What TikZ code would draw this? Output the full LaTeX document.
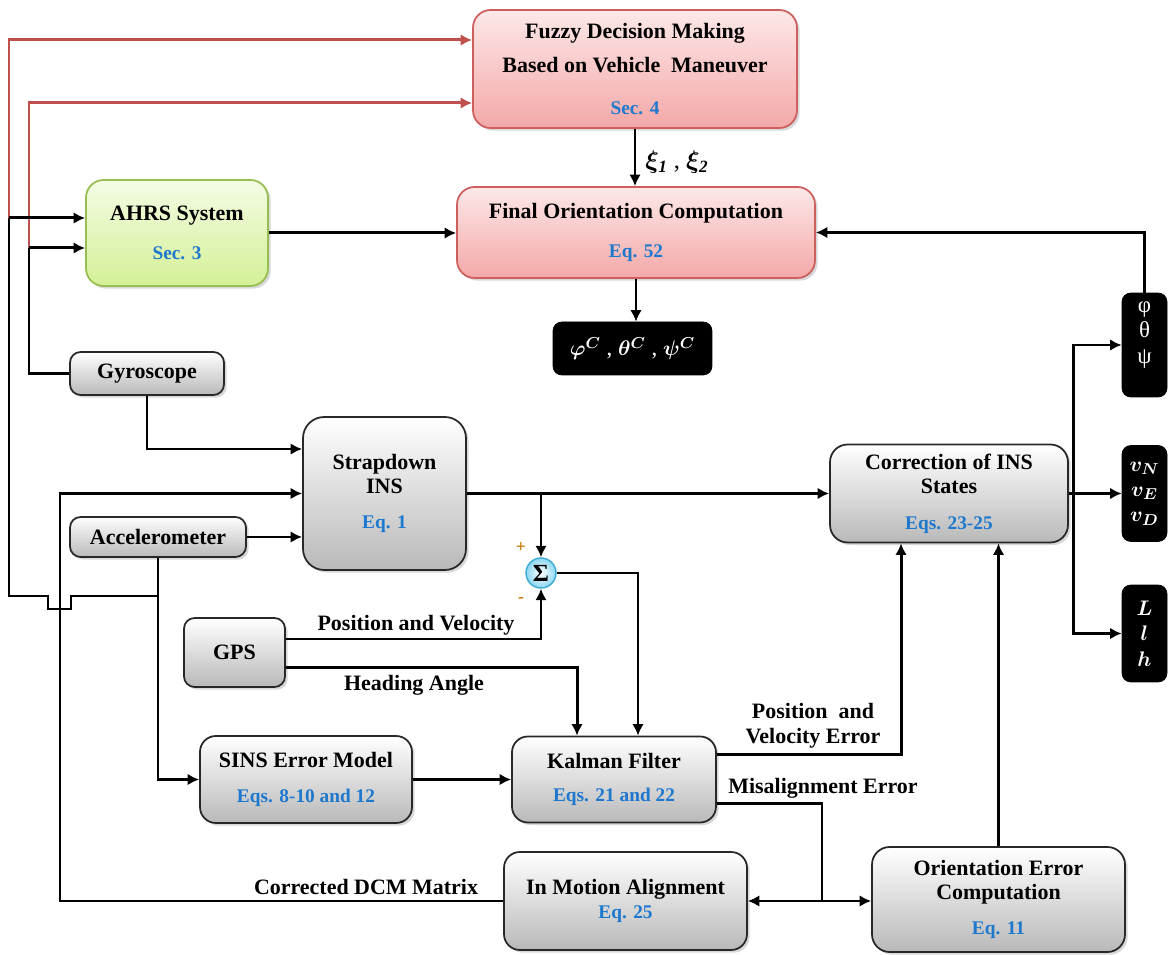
\documentclass[tikz,border=0pt]{standalone}
\usepackage{fontspec}
\setmainfont{Liberation Serif}
\usetikzlibrary{arrows.meta,shadows,calc}
\definecolor{boxedge}{RGB}{40,40,40}
\definecolor{boxbottom}{RGB}{185,185,185}
\definecolor{pinkedge}{RGB}{205,95,95}
\definecolor{pinktop}{RGB}{253,232,232}
\definecolor{pinkbottom}{RGB}{244,168,168}
\definecolor{greenedge}{RGB}{150,190,80}
\definecolor{greentop}{RGB}{244,252,228}
\definecolor{greenbottom}{RGB}{212,240,150}
\definecolor{redline}{RGB}{192,80,77}
\definecolor{eqblue}{RGB}{30,120,205}
\definecolor{sigmaedge}{RGB}{60,170,210}
\definecolor{sigmafill}{RGB}{140,215,240}
\definecolor{signcol}{RGB}{200,120,0}
\newcommand\bluetxt[1]{{\color{eqblue}\fontsize{11}{13}\selectfont #1}}
\begin{document}
\begin{tikzpicture}[x=0.02cm,y=-0.02cm,
 font=\fontsize{12.5}{14}\selectfont\bfseries,
 base/.style={align=center, inner sep=0pt, line width=1pt,
   drop shadow={opacity=0.3,shadow xshift=1.5pt,shadow yshift=-1.5pt}},
 graybox/.style={base, draw=boxedge, rounded corners=6pt, top color=white, bottom color=boxbottom},
 pinkbox/.style={base, draw=pinkedge, rounded corners=10pt, top color=pinktop, bottom color=pinkbottom},
 greenbox/.style={base, draw=greenedge, rounded corners=10pt, top color=greentop, bottom color=greenbottom},
 blackbox/.style={draw=black, fill=black, rounded corners=5pt, text=white, align=center, inner sep=0pt},
 wire/.style={line width=1.7pt},
 arr/.style={wire, -{Latex[length=6.5pt,width=6.5pt]}},
 redarr/.style={arr, draw=redline},
 lab/.style={inner sep=0pt}]
\fill[white] (0,0) rectangle (1171,955);
\useasboundingbox (0,0) rectangle (1171,955);

% boxes
\node[pinkbox, minimum width=6.48cm, minimum height=2.36cm] (fuzzy) at (635,69)
  {Fuzzy Decision Making\\[5pt]Based on Vehicle\ \ Maneuver\\[10pt]\bluetxt{Sec. 4}};
\node[greenbox, minimum width=3.64cm, minimum height=2.12cm] (ahrs) at (177,233)
  {AHRS System\\[8pt]\bluetxt{Sec. 3}};
\node[pinkbox, minimum width=7.16cm, minimum height=1.82cm] (final) at (636,232.5)
  {Final Orientation Computation\\[8pt]\bluetxt{Eq. 52}};
\node[blackbox, minimum width=3.18cm, minimum height=1.06cm, font=\fontsize{13}{15}\selectfont\boldmath] (outc) at (632.5,348.5)
  {$\varphi^{C}$ , $\theta^{C}$ , $\psi^{C}$};
\node[graybox, minimum width=3.08cm, minimum height=0.86cm] (gyro) at (147,373.5) {Gyroscope};
\node[graybox, minimum width=3.52cm, minimum height=0.80cm] (accel) at (158,537) {Accelerometer};
\node[graybox, rounded corners=12pt, minimum width=3.26cm, minimum height=3.06cm] (sins) at (384.5,493.5)
  {Strapdown\\INS\\[6pt]\bluetxt{Eq. 1}};
\node[circle, minimum size=0.6cm, inner sep=0pt, draw=sigmaedge, line width=0.8pt,
  inner color=white, outer color=sigmafill, font=\fontsize{14}{14}\selectfont\bfseries] (sigma) at (541,573) {Σ};
\node[graybox, minimum width=2.02cm, minimum height=1.38cm] (gps) at (234.5,652.5) {GPS};
\node[graybox, rounded corners=10pt, minimum width=4.76cm, minimum height=1.96cm] (corr) at (949,493.5)
  {Correction of INS\\States\\[6pt]\bluetxt{Eqs. 23-25}};
\node[blackbox, minimum width=0.9cm, minimum height=2.08cm, font=\fontsize{13}{14.5}\selectfont] (att) at (1144.5,345)
  {φ\\θ\\ψ\\\mbox{}};
\node[blackbox, minimum width=0.9cm, minimum height=1.92cm, font=\fontsize{13}{14.5}\selectfont\boldmath] (vel) at (1144.5,493.5)
  {$v_{N}$\\$v_{E}$\\$v_{D}$};
\node[blackbox, minimum width=0.9cm, minimum height=1.94cm, font=\fontsize{13}{14.5}\selectfont\boldmath] (pos) at (1144.5,633.5)
  {$L$\\$l$\\$h$};
\node[graybox, rounded corners=9pt, minimum width=4.24cm, minimum height=1.74cm] (err) at (306,779.5)
  {SINS Error Model\\[6pt]\bluetxt{Eqs. 8-10 and 12}};
\node[graybox, rounded corners=9pt, minimum width=4.08cm, minimum height=1.72cm] (kalman) at (614,779.5)
  {Kalman Filter\\[5pt]\bluetxt{Eqs. 21 and 22}};
\node[graybox, rounded corners=9pt, minimum width=4.86cm, minimum height=1.96cm] (ima) at (625.5,901)
  {In Motion Alignment\\\bluetxt{Eq. 25}};
\node[graybox, rounded corners=10pt, minimum width=5.06cm, minimum height=2.10cm] (oec) at (998.5,899.5)
  {Orientation Error\\Computation\\[6pt]\bluetxt{Eq. 11}};

% connectors
\coordinate (aL) at (9,218);
\coordinate (gL) at (29,248);
\coordinate (r1) at (9,40);
\coordinate (r2) at (29,103);
\draw[redarr] (aL) -- (r1) -- (r1 -| fuzzy.west);
\draw[redarr] (gL) -- (r2) -- (r2 -| fuzzy.west);
\draw[arr] (aL) -- (aL -| ahrs.west);
\draw[arr] (gL) -- (gL -| ahrs.west);
\draw[wire] (gyro.west) -| (gL);
\coordinate (aJ) at (158,596);
\draw[wire] (aJ) -- (71,596) -- (71,609) -- (48,609) -- (48,596) -- (9,596) -- (aL);
\draw[arr] (accel.south) |- (err.west);
\draw[arr] (gyro.south) |- ([yshift=0.89cm]sins.west);
\draw[arr] (accel.east) -- (accel.east -| sins.west);
\coordinate (dcm) at (60,901);
\draw[arr] (ima.west) -- (dcm) |- (sins.west);
\draw[arr] (sins.east) -- (corr.west);
\coordinate (br) at (541,493.5);
\draw[arr] (br) -- (sigma.north);
\draw[arr] ([yshift=0.27cm]gps.east) -| (sigma.south);
\draw[arr] ([yshift=-0.31cm]gps.east) -| ([xshift=-0.74cm]kalman.north);
\draw[arr] (sigma.east) -| ([xshift=0.48cm]kalman.north);
\draw[arr] (err.east) -- (err.east -| kalman.west);
\draw[arr] ([yshift=0.5cm]kalman.east) -| ([xshift=-0.96cm]corr.south);
\coordinate (mj) at (822,901);
\draw[wire] ([yshift=-0.48cm]kalman.east) -| (mj);
\draw[arr] (mj) -- (ima.east);
\draw[arr] (mj) -- (mj -| oec.west);
\draw[arr] (oec.north) -- (oec.north |- corr.south);
\coordinate (cj) at (1073,493.5);
\draw[arr] (corr.east) -- (vel.west);
\draw[arr] (cj) |- (att.west);
\draw[arr] (cj) |- (pos.west);
\draw[arr] (att.north) |- (final.east);
\draw[arr] (ahrs.east) -- (ahrs.east -| final.west);
\draw[arr] (fuzzy.south) -- (fuzzy.south |- final.north);
\draw[arr] (final.south) -- (final.south |- outc.north);

% labels
\node[lab, font=\fontsize{14}{14}\selectfont\boldmath] (lxi) at (677,162) {$\xi_{\mathit{1}}$ , $\xi_{\mathit{2}}$};
\node[lab] (lpv) at (416,625) {Position and Velocity};
\node[lab] (lha) at (414,685) {Heading Angle};
\node[lab, align=center] (lpve) at (813,726) {Position\ \ and\\Velocity Error};
\node[lab] (lme) at (823,788) {Misalignment Error};
\node[lab] (ldcm) at (366,887) {Corrected DCM Matrix};
\node[lab, text=signcol, font=\fontsize{10}{10}\selectfont\bfseries] (lplus) at (521,548) {+};
\node[lab, text=signcol, font=\fontsize{10}{10}\selectfont\bfseries] (lminus) at (521,600) {-};
\end{tikzpicture}
\end{document}
